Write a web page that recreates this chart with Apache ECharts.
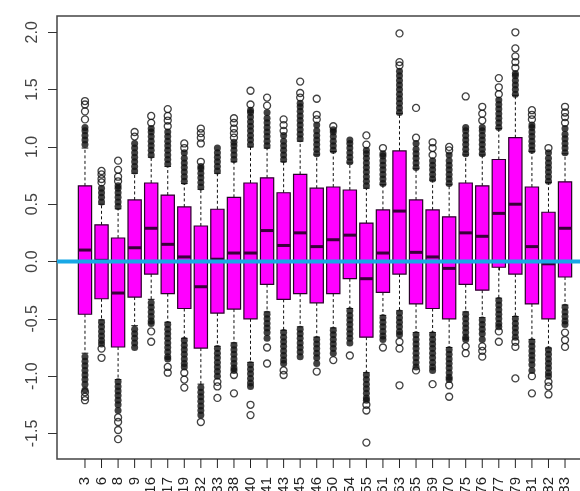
<!DOCTYPE html>
<html><head><meta charset="utf-8">
<script src="https://cdn.jsdelivr.net/npm/echarts@6/dist/echarts.min.js"></script>
<style>html,body{margin:0;padding:0;background:#fff;}#c{width:580px;height:491px;}</style>
</head><body><div id="c"></div>
<script>
const categories = ["3","6","8","9","16","17","19","32","33","38","40","41","43","45","46","50","54","55","61","63","65","69","70","75","76","77","79","81","82","83"];
const lowerWhisker = [-0.80,-0.51,-1.03,-0.56,-0.33,-0.53,-0.67,-1.07,-0.74,-0.71,-0.88,-0.44,-0.60,-0.57,-0.66,-0.58,-0.41,-0.97,-0.47,-0.43,-0.62,-0.62,-0.75,-0.44,-0.49,-0.32,-0.48,-0.68,-0.755,-0.38];
const q1 = [-0.46,-0.325,-0.746,-0.31,-0.11,-0.28,-0.41,-0.755,-0.45,-0.415,-0.50,-0.20,-0.33,-0.28,-0.36,-0.28,-0.15,-0.66,-0.27,-0.11,-0.37,-0.41,-0.50,-0.20,-0.25,-0.05,-0.11,-0.37,-0.50,-0.135];
const median = [0.10,0.01,-0.275,0.12,0.29,0.15,0.04,-0.22,0.02,0.074,0.074,0.27,0.14,0.25,0.13,0.19,0.23,-0.15,0.074,0.44,0.08,0.04,-0.06,0.25,0.22,0.42,0.50,0.13,-0.02,0.29];
const q3 = [0.66,0.32,0.205,0.537,0.685,0.58,0.476,0.31,0.456,0.56,0.685,0.73,0.60,0.76,0.64,0.65,0.624,0.335,0.45,0.965,0.537,0.45,0.39,0.685,0.66,0.89,1.08,0.65,0.43,0.695];
const upperWhisker = [0.99,0.50,0.46,0.77,0.91,0.83,0.68,0.63,0.77,0.87,1.0,0.99,0.87,1.05,0.93,0.96,0.86,0.64,0.67,1.29,0.81,0.71,0.67,0.93,0.93,1.16,1.45,0.96,0.69,0.94];
const outliersDense = [
 [1.02,1.06,1.10,1.14,1.17,-0.83,-0.87,-0.91,-0.95,-0.99,-1.03,-1.07,-1.12],
 [0.52,0.56,0.60,0.64,-0.53,-0.57,-0.61,-0.65,-0.69,-0.72],
 [0.48,0.52,0.56,0.60,0.64,0.66,-1.05,-1.09,-1.13,-1.17,-1.21,-1.25,-1.30],
 [0.79,0.83,0.87,0.91,0.95,0.99,1.03,-0.59,-0.63,-0.67,-0.71,-0.75],
 [0.93,0.97,1.01,1.05,1.09,1.13,1.16,-0.36,-0.40,-0.44,-0.48,-0.52,-0.54],
 [0.85,0.89,0.93,0.97,1.01,1.05,1.09,1.13,-0.55,-0.59,-0.63,-0.67,-0.71,-0.75,-0.79,-0.83,-0.85],
 [0.70,0.74,0.78,0.82,0.86,0.90,0.95,-0.69,-0.73,-0.77,-0.81,-0.85,-0.89,-0.92],
 [0.65,0.69,0.73,0.77,0.81,0.83,-1.10,-1.14,-1.18,-1.22,-1.26,-1.30,-1.34],
 [0.79,0.83,0.87,0.91,0.95,0.99,-0.76,-0.80,-0.84,-0.88,-0.92,-0.96,-1.00],
 [0.89,0.93,0.97,1.01,1.04,-0.73,-0.77,-0.81,-0.85,-0.89,-0.93,-0.95],
 [1.02,1.06,1.10,1.14,1.18,1.22,1.26,1.30,1.32,-0.90,-0.94,-0.98,-1.02,-1.06,-1.09],
 [1.01,1.05,1.09,1.13,1.17,1.21,1.25,1.30,-0.46,-0.50,-0.54,-0.58,-0.62,-0.67],
 [0.89,0.93,0.97,1.01,1.05,1.10,-0.62,-0.66,-0.70,-0.74,-0.78,-0.82,-0.86,-0.89],
 [1.07,1.11,1.15,1.19,1.23,1.27,1.31,1.35,1.38,-0.59,-0.63,-0.67,-0.71,-0.75,-0.79,-0.83],
 [0.94,0.98,1.02,1.06,1.10,1.14,1.19,-0.68,-0.72,-0.76,-0.80,-0.84,-0.89],
 [0.97,1.01,1.05,1.09,1.13,1.15,-0.60,-0.64,-0.68,-0.72,-0.76,-0.80],
 [0.87,0.91,0.95,0.99,1.03,1.06,-0.43,-0.47,-0.51,-0.55,-0.59,-0.63,-0.67,-0.71],
 [0.66,0.70,0.74,0.78,0.82,0.86,0.90,0.94,0.97,-0.99,-1.03,-1.07,-1.11,-1.15,-1.19,-1.21],
 [0.68,0.72,0.76,0.80,0.84,0.88,0.92,0.94,-0.49,-0.53,-0.57,-0.61,-0.65,-0.68],
 [1.30,1.34,1.38,1.42,1.46,1.50,1.54,1.58,1.62,1.66,-0.45,-0.49,-0.53,-0.57,-0.61,-0.64],
 [0.82,0.86,0.90,0.94,0.98,1.03,-0.64,-0.68,-0.72,-0.76,-0.80,-0.84,-0.88,-0.92],
 [0.72,0.76,0.80,0.84,0.88,-0.64,-0.68,-0.72,-0.76,-0.80,-0.84,-0.88,-0.92,-0.95],
 [0.68,0.72,0.76,0.80,0.84,0.88,0.93,-0.77,-0.81,-0.85,-0.89,-0.93,-0.97,-1.01,-1.03],
 [0.94,0.98,1.02,1.06,1.10,1.14,1.17,-0.46,-0.50,-0.54,-0.58,-0.62,-0.66,-0.68],
 [0.94,0.98,1.02,1.06,1.10,1.14,1.17,-0.51,-0.55,-0.59,-0.63,-0.68],
 [1.17,1.21,1.25,1.29,1.33,1.37,1.41,-0.34,-0.38,-0.42,-0.46,-0.50,-0.54,-0.57],
 [1.46,1.50,1.54,1.58,1.62,1.64,-0.50,-0.54,-0.58,-0.62,-0.66],
 [0.97,1.01,1.05,1.09,1.13,1.17,1.19,-0.70,-0.74,-0.78,-0.82,-0.86,-0.90,-0.95],
 [0.70,0.74,0.78,0.82,0.86,0.90,0.95,-0.77,-0.81,-0.85,-0.89,-0.93,-0.97,-1.00],
 [0.95,0.99,1.03,1.07,1.11,1.16,-0.40,-0.44,-0.48,-0.52,-0.55]
];
const outliersSparse = [
 [1.24,1.31,1.37,1.40,-1.14,-1.18,-1.21],
 [0.69,0.72,0.76,0.79,-0.76,-0.84],
 [0.70,0.74,0.80,0.88,-1.36,-1.40,-1.47,-1.55],
 [1.09,1.13],
 [1.21,1.27,-0.61,-0.70],
 [1.18,1.23,1.27,1.33,-0.92,-0.97],
 [0.99,1.03,-0.97,-1.03,-1.10],
 [0.87,1.03,1.08,1.12,1.16,-1.40],
 [-1.05,-1.09,-1.19],
 [1.08,1.12,1.16,1.21,1.25,-0.99,-1.15],
 [1.37,1.49,-1.25,-1.34],
 [1.36,1.43,-0.75,-0.89],
 [1.14,1.19,1.24,-0.95,-0.99],
 [1.43,1.47,1.57],
 [1.24,1.28,1.42,-0.96],
 [1.18,-0.86],
 [-0.82],
 [1.02,1.10,-1.25,-1.30,-1.58],
 [0.99,-0.75],
 [1.71,1.74,1.99,-0.70,-0.76,-1.08],
 [1.08,1.34,-0.95],
 [0.93,0.99,1.04,-1.07],
 [0.97,1.00,-1.08,-1.18],
 [1.44,-0.74,-0.80],
 [1.23,1.29,1.35,-0.74,-0.78,-0.83],
 [1.46,1.52,1.60,-0.61,-0.70],
 [1.69,1.74,1.79,1.86,2.00,-0.70,-0.745,-1.02],
 [1.24,1.28,1.32,-1.00,-1.15],
 [0.99,-1.05,-1.09,-1.16],
 [1.21,1.26,1.30,1.35,-0.62,-0.685,-0.745]
];
const yTicks = [-1.5,-1.0,-0.5,0.0,0.5,1.0,1.5,2.0];
const refLineValue = 0;
const yMin = -1.723, yMax = 2.142;

const boxData = categories.map((c,i)=>[i,lowerWhisker[i],q1[i],median[i],q3[i],upperWhisker[i]]);
const denseData = [], sparseData = [];
outliersDense.forEach((arr,i)=>arr.forEach(v=>denseData.push([i,v])));
outliersSparse.forEach((arr,i)=>arr.forEach(v=>sparseData.push([i,v])));

const chart = echarts.init(document.getElementById('c'), null, {renderer:'canvas'});
const labelFont = '"Liberation Sans", Arial, sans-serif';
chart.setOption({
  animation:false,
  backgroundColor:'#fff',
  grid:[
    {left:57, top:16, right:-12, bottom:32, show:true, borderColor:'#444', borderWidth:1.5, backgroundColor:'transparent', containLabel:false, outerBoundsMode:'none'},
    {left:76.7, top:16, right:6.7, bottom:32, containLabel:false, outerBoundsMode:'none'}
  ],
  xAxis:[
    {gridIndex:0, type:'value', min:0, max:1, show:false},
    {gridIndex:1, type:'category', data:categories, boundaryGap:true,
     axisLine:{show:false},
     axisTick:{show:true, alignWithLabel:true, interval:0, length:9, lineStyle:{color:'#111', width:1}},
     axisLabel:{rotate:90, margin:18, fontSize:15, color:'#222', fontFamily:labelFont, interval:0},
     splitLine:{show:false}}
  ],
  yAxis:[
    {gridIndex:0, type:'value', min:yMin, max:yMax,
     axisLine:{show:false},
     axisTick:{show:true, length:9, customValues:yTicks, lineStyle:{color:'#333', width:1}},
     axisLabel:{rotate:90, margin:16, fontSize:16, color:'#444', fontFamily:labelFont, customValues:yTicks,
       formatter:v=>Number(v).toFixed(1)},
     splitLine:{show:false}},
    {gridIndex:1, type:'value', min:yMin, max:yMax, show:false}
  ],
  series:[
    {type:'custom', xAxisIndex:1, yAxisIndex:1, z:2, data:boxData, clip:false,
     renderItem:function(params, api){
       const x = api.value(0);
       const pLw = api.coord([x, api.value(1)]);
       const pQ1 = api.coord([x, api.value(2)]);
       const pMed = api.coord([x, api.value(3)]);
       const pQ3 = api.coord([x, api.value(4)]);
       const pUw = api.coord([x, api.value(5)]);
       const pBase = api.coord([x, yMin]);
       const half = api.size([1,0])[0]*0.4;
       const cx = pQ1[0];
       const dash = {stroke:'#111', lineWidth:1, lineDash:[3,2.5]};
       return {type:'group', children:[
         {type:'line', shape:{x1:cx,y1:pBase[1],x2:cx,y2:pBase[1]+9}, style:{stroke:'#222',lineWidth:1}},
         {type:'line', shape:{x1:cx,y1:pQ3[1],x2:cx,y2:pUw[1]}, style:dash},
         {type:'line', shape:{x1:cx,y1:pQ1[1],x2:cx,y2:pLw[1]}, style:dash},
         {type:'line', shape:{x1:cx-half/2,y1:pUw[1],x2:cx+half/2,y2:pUw[1]}, style:{stroke:'#111',lineWidth:1}},
         {type:'line', shape:{x1:cx-half/2,y1:pLw[1],x2:cx+half/2,y2:pLw[1]}, style:{stroke:'#111',lineWidth:1}},
         {type:'rect', shape:{x:cx-half, y:pQ3[1], width:2*half, height:pQ1[1]-pQ3[1]}, style:{fill:'#FF00FF', stroke:'#2a002a', lineWidth:1.2}},
         {type:'line', shape:{x1:cx-half,y1:pMed[1],x2:cx+half,y2:pMed[1]}, style:{stroke:'#3a003a',lineWidth:3}}
       ]};
     }},
    {type:'scatter', xAxisIndex:1, yAxisIndex:1, z:3, data:denseData, symbol:'circle', symbolSize:7,
     itemStyle:{color:'#111'}, silent:true},
    {type:'scatter', xAxisIndex:1, yAxisIndex:1, z:3, data:sparseData, symbol:'circle', symbolSize:7,
     itemStyle:{color:'rgba(255,255,255,0)', borderColor:'#111', borderWidth:1.3}, silent:true},
    {type:'line', xAxisIndex:0, yAxisIndex:0, z:5, data:[[0,refLineValue],[1,refLineValue]],
     symbol:'none', lineStyle:{color:'#18A8E6', width:4}, silent:true}
  ]
});
</script></body></html>
